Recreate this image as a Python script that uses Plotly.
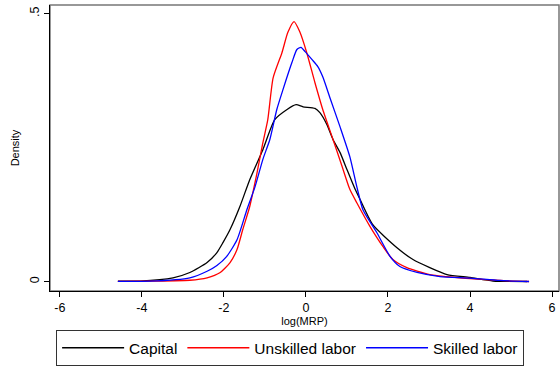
import plotly.graph_objects as go

# Capital
cap_x = [-4.585, -4.05, -3.24, -2.83, -2.41, -2.17, -2.02, -1.85, -1.61, -1.37, -1.05, -0.76, -0.46,
         -0.24, -0.07, 0.22, 0.34, 0.51, 0.66, 0.83, 1.0, 1.20, 1.32, 1.63, 2.22, 2.61, 3.02, 3.44,
         4.0, 4.56, 5.39]
cap_y = [0.0006, 0.0008, 0.0069, 0.0168, 0.0354, 0.054, 0.073, 0.097, 0.140, 0.190, 0.246, 0.302,
         0.321, 0.330, 0.326, 0.323, 0.315, 0.293, 0.265, 0.241, 0.209, 0.172, 0.153, 0.106, 0.063,
         0.041, 0.026, 0.013, 0.0075, 0.001, 0.0]

# Unskilled labor
uns_x = [-4.585, -4.05, -2.83, -2.41, -2.10, -1.85, -1.68, -1.54, -1.37, -1.20, -1.05, -0.93, -0.80,
         -0.585, -0.44, -0.29, -0.15, 0.02, 0.22, 0.41, 0.66, 0.88, 1.07, 1.24, 1.56, 1.88, 2.12,
         2.46, 3.02, 3.68, 4.0, 4.73, 5.44]
uns_y = [0.0004, 0.0006, 0.0024, 0.0069, 0.0162, 0.0354, 0.0597, 0.097, 0.140, 0.200, 0.259, 0.302,
         0.380, 0.427, 0.465, 0.485, 0.466, 0.427, 0.371, 0.321, 0.265, 0.215, 0.172, 0.147, 0.103,
         0.065, 0.041, 0.026, 0.013, 0.0075, 0.0056, 0.002, 0.0]

# Skilled labor
sk_x = [-4.585, -3.80, -2.83, -2.41, -2.17, -1.93, -1.68, -1.44, -1.24, -1.05, -0.88, -0.71, -0.56,
        -0.34, -0.22, -0.12, -0.02, 0.15, 0.29, 0.41, 0.585, 0.83, 1.07, 1.24, 1.39, 1.73, 2.05,
        2.29, 2.71, 3.27, 4.0, 4.73, 5.44]
sk_y = [0.0002, 0.0006, 0.0069, 0.0192, 0.030, 0.047, 0.078, 0.134, 0.177, 0.228, 0.265, 0.321,
        0.358, 0.409, 0.433, 0.437, 0.429, 0.414, 0.401, 0.382, 0.343, 0.289, 0.233, 0.177, 0.134,
        0.091, 0.047, 0.028, 0.017, 0.0093, 0.0065, 0.002, 0.0]

x_ticks = [-6, -4, -2, 0, 2, 4, 6]
x_labels = ["-6", "-4", "-2", "0", "2", "4", "6"]
y_ticks = [0, 0.5]
y_labels = ["0", ".5"]

FONT = "Liberation Sans, Arial, Helvetica, sans-serif"

fig = go.Figure()
fig.add_trace(go.Scatter(x=cap_x, y=cap_y, mode="lines", name="Capital",
                         line=dict(color="black", width=1.3, shape="spline", smoothing=0.6)))
fig.add_trace(go.Scatter(x=uns_x, y=uns_y, mode="lines", name="Unskilled labor",
                         line=dict(color="red", width=1.3, shape="spline", smoothing=0.6)))
fig.add_trace(go.Scatter(x=sk_x, y=sk_y, mode="lines", name="Skilled labor",
                         line=dict(color="blue", width=1.3, shape="spline", smoothing=0.6)))

fig.add_shape(type="rect", xref="paper", yref="paper", x0=0, x1=1, y0=0, y1=1,
              line=dict(color="#777777", width=1.5), layer="below")

fig.update_layout(
    width=560, height=366,
    margin=dict(l=50, r=1, t=5, b=75, autoexpand=False),
    paper_bgcolor="white", plot_bgcolor="white",
    font=dict(family=FONT, color="black"),
    showlegend=True,
    legend=dict(orientation="h", x=0.012, xanchor="left", y=-0.137, yanchor="top",
                bordercolor="#333333", borderwidth=1, font=dict(size=15.5),
                itemwidth=62, tracegroupgap=0),
    xaxis=dict(range=[-6.24, 6.17], tickvals=x_ticks, ticktext=x_labels, automargin=False,
               ticks="outside", ticklen=5, tickcolor="black", tickwidth=1,
               showgrid=False, zeroline=False, showline=True, linecolor="black", linewidth=1.3,
               tickfont=dict(size=12.5),
               title=dict(text="log(MRP)", font=dict(size=11), standoff=3)),
    yaxis=dict(range=[-0.0177, 0.516], tickvals=y_ticks, ticktext=y_labels, automargin=False,
               ticks="outside", ticklen=5, tickcolor="black", tickwidth=1, tickangle=-90,
               showgrid=False, zeroline=False, showline=True, linecolor="black", linewidth=1.3,
               tickfont=dict(size=12.5),
               title=dict(text="Density", font=dict(size=11), standoff=5)),
)

fig.write_html("out.html", config={"displayModeBar": False},
               post_script="document.body.style.margin='0';document.body.style.overflow='hidden';")
